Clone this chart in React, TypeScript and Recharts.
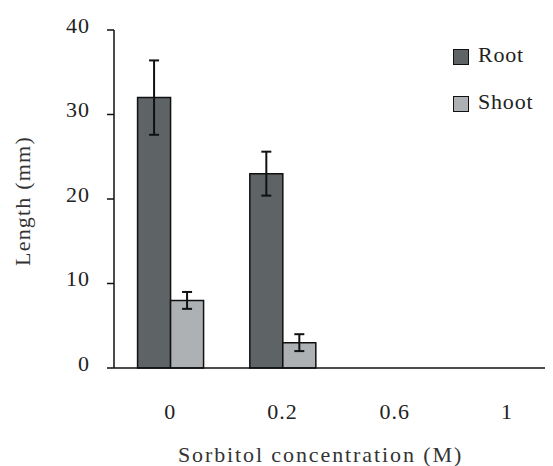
import { BarChart, Bar, XAxis, YAxis, ErrorBar, Legend } from 'recharts';

const concentrations = ['0', '0.2', '0.6', '1'];
const rootLength = [32, 23, 0, 0];
const rootError = [4.4, 2.6, 0, 0];
const shootLength = [8, 3, 0, 0];
const shootError = [1, 1, 0, 0];
const yTicks = [0, 10, 20, 30, 40];

const data = concentrations.map((c, i) => ({
  name: c,
  root: rootLength[i],
  rootErr: rootError[i],
  shoot: shootLength[i],
  shootErr: shootError[i],
}));

const FONT = '"Liberation Serif", serif';
const ROOT_COLOR = '#5e6366';
const SHOOT_COLOR = '#adb1b4';

const XTick = ({ x, y, payload }: any) => (
  <text x={x} y={y + 51} textAnchor="middle" fontFamily={FONT} fontSize={22} fill="#222" letterSpacing={1}>
    {payload.value}
  </text>
);

const YTick = ({ x, y, payload }: any) => (
  <text x={x - 17} y={y + 2.5} textAnchor="end" fontFamily={FONT} fontSize={22} fill="#222" letterSpacing={1}>
    {payload.value}
  </text>
);

const LegendBox = () => {
  const items = [
    { label: 'Root', color: ROOT_COLOR },
    { label: 'Shoot', color: SHOOT_COLOR },
  ];
  return (
    <div style={{ fontFamily: FONT, fontSize: 22, color: '#222' }}>
      {items.map((it, i) => (
        <div key={it.label} style={{ display: 'flex', alignItems: 'center', height: 24, marginBottom: i === 0 ? 23 : 0 }}>
          <span
            style={{
              display: 'inline-block',
              width: 14,
              height: 14,
              background: it.color,
              border: '1.5px solid #111',
              marginRight: 9,
              marginTop: 3,
            }}
          />
          <span style={{ letterSpacing: 0.8 }}>{it.label}</span>
        </div>
      ))}
    </div>
  );
};

export default function App() {
  return (
    <div style={{ width: 545, height: 458, overflow: 'hidden' }}>
      <BarChart
        width={560}
        height={458}
        data={data}
        margin={{ top: 22, right: 5, left: 0, bottom: 0 }}
        barCategoryGap="21%"
        barGap={0}
      >
        <XAxis
          dataKey="name"
          height={98}
          tickLine={false}
          tickSize={0}
          tickMargin={0}
          axisLine={{ stroke: '#111', strokeWidth: 1.5 }}
          tick={<XTick />}
          label={{
            value: 'Sorbitol concentration (M)',
            position: 'insideBottom',
            offset: 4,
            dx: -18,
            fontFamily: FONT,
            fontSize: 22,
            fill: '#333',
            letterSpacing: 1.9,
          }}
        />
        <YAxis
          width={106}
          domain={[0, 40]}
          ticks={yTicks}
          interval={0}
          tickSize={7}
          tickMargin={0}
          tickLine={{ stroke: '#111', strokeWidth: 1.5 }}
          axisLine={{ stroke: '#111', strokeWidth: 1.5 }}
          tick={<YTick />}
          label={{
            value: 'Length (mm)',
            angle: -90,
            position: 'center',
            dx: -39,
            dy: 2,
            fontFamily: FONT,
            fontSize: 22,
            fill: '#333',
            letterSpacing: 1.2,
          }}
        />
        <Legend
          layout="horizontal"
          verticalAlign="middle"
          align="center"
          content={<LegendBox />}
          wrapperStyle={{ position: 'absolute', left: 445, top: 35, width: 'auto', height: 'auto' }}
        />
        <Bar dataKey="root" name="Root" fill={ROOT_COLOR} stroke="#111" strokeWidth={1.5} isAnimationActive={false}>
          <ErrorBar dataKey="rootErr" width={5} stroke="#111" strokeWidth={2} />
        </Bar>
        <Bar dataKey="shoot" name="Shoot" fill={SHOOT_COLOR} stroke="#111" strokeWidth={1.5} isAnimationActive={false}>
          <ErrorBar dataKey="shootErr" width={5} stroke="#111" strokeWidth={2} />
        </Bar>
      </BarChart>
    </div>
  );
}
